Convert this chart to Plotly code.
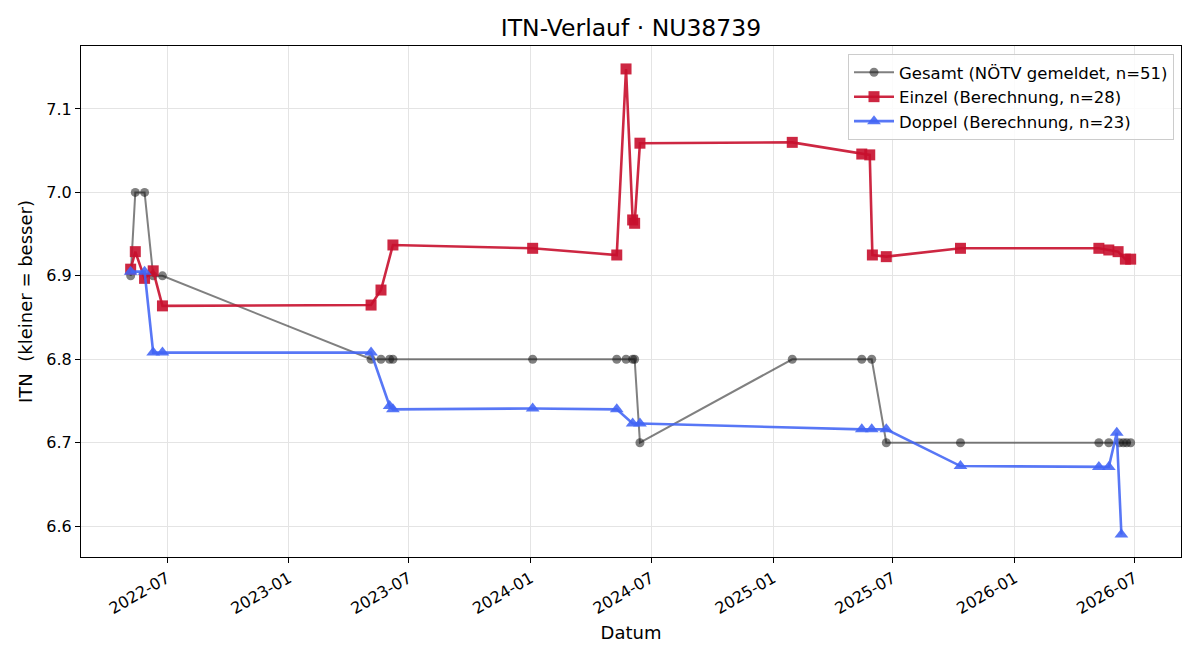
import plotly.graph_objects as go

# ---- data ----
gesamt_dates = ["2022-05-07", "2022-05-14", "2022-05-28", "2022-06-10", "2022-06-24",
                "2023-05-05", "2023-05-20", "2023-06-02", "2023-06-07", "2024-01-04",
                "2024-05-10", "2024-05-24", "2024-06-03", "2024-06-06", "2024-06-14",
                "2025-01-30", "2025-05-15", "2025-05-30", "2025-06-21", "2025-10-11",
                "2026-05-08", "2026-05-23", "2026-06-08", "2026-06-14", "2026-06-19",
                "2026-06-25"]
gesamt_vals = [6.9, 7.0, 7.0, 6.9, 6.9,
               6.8, 6.8, 6.8, 6.8, 6.8,
               6.8, 6.8, 6.8, 6.8, 6.7,
               6.8, 6.8, 6.8, 6.7, 6.7,
               6.7, 6.7, 6.7, 6.7, 6.7,
               6.7]

einzel_dates = ["2022-05-07", "2022-05-14", "2022-05-28", "2022-06-10", "2022-06-24",
                "2023-05-05", "2023-05-20", "2023-06-07", "2024-01-04", "2024-05-10",
                "2024-05-24", "2024-06-03", "2024-06-06", "2024-06-14", "2025-01-30",
                "2025-05-15", "2025-05-27", "2025-05-31", "2025-06-21", "2025-10-11",
                "2026-05-08", "2026-05-23", "2026-06-06", "2026-06-17", "2026-06-25"]
einzel_vals = [6.908, 6.929, 6.897, 6.906, 6.864,
               6.865, 6.883, 6.937, 6.933, 6.925,
               7.148, 6.967, 6.963, 7.059, 7.060,
               7.046, 7.045, 6.925, 6.923, 6.933,
               6.933, 6.931, 6.929, 6.920, 6.920]

doppel_dates = ["2022-05-07", "2022-05-28", "2022-06-10", "2022-06-24", "2023-05-05",
                "2023-06-02", "2023-06-07", "2024-01-04", "2024-05-10", "2024-06-03",
                "2024-06-14", "2025-05-15", "2025-05-30", "2025-06-21", "2025-10-11",
                "2026-05-08", "2026-05-23", "2026-06-04", "2026-06-11"]
doppel_vals = [6.905, 6.905, 6.808, 6.808, 6.808,
               6.744, 6.740, 6.741, 6.740, 6.723,
               6.723, 6.716, 6.716, 6.716, 6.672,
               6.671, 6.671, 6.712, 6.590]

x_tick_vals = ["2022-07-01", "2023-01-01", "2023-07-01", "2024-01-01", "2024-07-01",
               "2025-01-01", "2025-07-01", "2026-01-01", "2026-07-01"]
x_tick_text = ["2022-07", "2023-01", "2023-07", "2024-01", "2024-07",
               "2025-01", "2025-07", "2026-01", "2026-07"]
y_tick_vals = [6.6, 6.7, 6.8, 6.9, 7.0, 7.1]

names = ["Gesamt (NÖTV gemeldet, n=51)",
         "Einzel (Berechnung, n=28)",
         "Doppel (Berechnung, n=23)"]

FONT = "DejaVu Sans"
gray = "rgba(20,20,20,0.54)"
red = "rgba(200,16,46,0.9)"
blue = "rgba(65,100,245,0.88)"

fig = go.Figure()
fig.add_trace(go.Scatter(
    x=gesamt_dates, y=gesamt_vals, mode="lines+markers", name=names[0],
    line=dict(color=gray, width=2),
    marker=dict(symbol="circle", size=9, color=gray, line=dict(width=0)),
))
fig.add_trace(go.Scatter(
    x=einzel_dates, y=einzel_vals, mode="lines+markers", name=names[1],
    line=dict(color=red, width=2.6),
    marker=dict(symbol="square", size=11, color=red, line=dict(width=0)),
))
fig.add_trace(go.Scatter(
    x=doppel_dates, y=doppel_vals, mode="lines+markers", name=names[2],
    line=dict(color=blue, width=2.6),
    marker=dict(symbol="triangle-up", size=12, color=blue, line=dict(width=0)),
))

axis_common = dict(
    showline=True, linecolor="black", linewidth=1, mirror=True,
    ticks="outside", ticklen=5, tickwidth=1, tickcolor="black",
    showgrid=True, gridcolor="#e4e4e4", gridwidth=1,
    zeroline=False,
    tickfont=dict(family=FONT, size=16, color="black"),
)

fig.update_layout(
    width=1200, height=660,
    margin=dict(l=81, r=19, t=46, b=103),
    paper_bgcolor="white", plot_bgcolor="white",
    font=dict(family=FONT, size=16, color="black"),
    title=dict(text="ITN-Verlauf · NU38739", x=0.5, xanchor="center", xref="paper",
               y=1 - 28 / 660, yanchor="middle", yref="container",
               font=dict(family=FONT, size=23.5, color="black")),
    xaxis=dict(
        **axis_common,
        type="date",
        range=["2022-02-21", "2026-09-09"],
        tickvals=x_tick_vals, ticktext=x_tick_text, tickangle=-30,
        title=dict(text="Datum", font=dict(family=FONT, size=18), standoff=9),
    ),
    yaxis=dict(
        **axis_common,
        range=[6.563, 7.1755],
        tickvals=y_tick_vals, tickformat=".1f",
        title=dict(text="ITN\u00a0 (kleiner = besser)", font=dict(family=FONT, size=18), standoff=9),
    ),
    legend=dict(
        x=(1174 - 81) / 1100, y=(557 - 54) / 511, xanchor="right", yanchor="top",
        bgcolor="rgba(255,255,255,0.85)", bordercolor="#cccccc", borderwidth=1,
        font=dict(family=FONT, size=16.5, color="black"),
        tracegroupgap=0, itemwidth=40,
    ),
    showlegend=True,
)

fig.write_html("out.html")
